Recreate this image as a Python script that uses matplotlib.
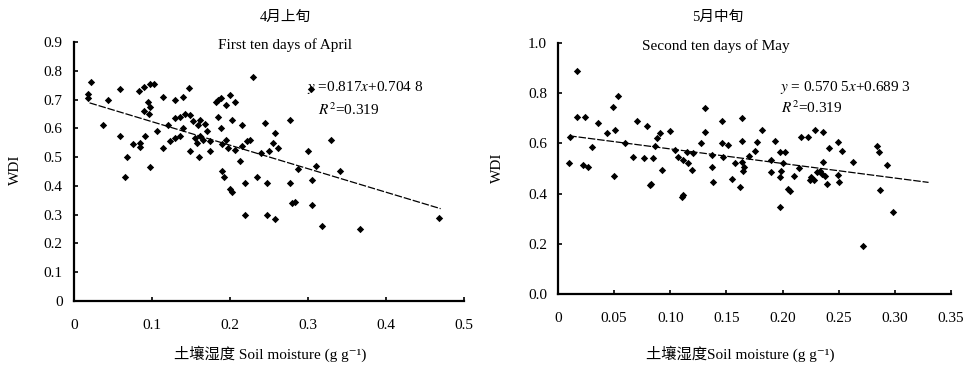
import numpy as np
import matplotlib
matplotlib.use("Agg")
import matplotlib.pyplot as plt

plt.rcParams['font.family'] = ['Liberation Serif', 'DejaVu Serif', 'Noto Sans CJK SC']
plt.rcParams['mathtext.fontset'] = 'stix'

# first ten days of April
apr_x = [0.022, 0.018, 0.018, 0.044, 0.059, 0.084, 0.090, 0.098, 0.103, 0.095,
         0.098, 0.096, 0.114, 0.037, 0.059, 0.076, 0.085, 0.091, 0.085, 0.068,
         0.097, 0.066, 0.106, 0.114, 0.123, 0.130, 0.136, 0.130, 0.136, 0.142,
         0.130, 0.140, 0.148, 0.149, 0.153, 0.159, 0.162, 0.168, 0.170, 0.162,
         0.166, 0.155, 0.158, 0.149, 0.160, 0.182, 0.185, 0.188, 0.200, 0.206,
         0.185, 0.202, 0.188, 0.216, 0.195, 0.190, 0.198, 0.206, 0.215, 0.222,
         0.226, 0.213, 0.190, 0.192, 0.219, 0.235, 0.248, 0.277, 0.305, 0.230,
         0.277, 0.304, 0.310, 0.330, 0.341, 0.200, 0.203, 0.219, 0.248, 0.258,
         0.279, 0.283, 0.305, 0.318, 0.367, 0.468, 0.262, 0.287, 0.195, 0.175,
         0.240, 0.250, 0.255, 0.258, 0.245, 0.090, 0.140, 0.120, 0.175, 0.300]
apr_y = [0.760, 0.720, 0.705, 0.700, 0.735, 0.730, 0.745, 0.755, 0.755, 0.690,
         0.675, 0.650, 0.710, 0.610, 0.575, 0.545, 0.550, 0.575, 0.535, 0.500,
         0.465, 0.430, 0.590, 0.530, 0.555, 0.565, 0.575, 0.635, 0.640, 0.650,
         0.700, 0.710, 0.740, 0.645, 0.625, 0.610, 0.630, 0.615, 0.590, 0.575,
         0.560, 0.565, 0.550, 0.520, 0.500, 0.690, 0.700, 0.705, 0.715, 0.690,
         0.640, 0.630, 0.600, 0.610, 0.560, 0.545, 0.530, 0.525, 0.540, 0.555,
         0.560, 0.485, 0.450, 0.430, 0.410, 0.430, 0.410, 0.410, 0.420, 0.780,
         0.630, 0.735, 0.470, 0.560, 0.450, 0.390, 0.380, 0.300, 0.300, 0.285,
         0.340, 0.345, 0.335, 0.260, 0.250, 0.290, 0.530, 0.460, 0.680, 0.555,
         0.515, 0.520, 0.550, 0.585, 0.620, 0.660, 0.600, 0.610, 0.520, 0.520]

# second ten days of May
may_x = [0.017, 0.053, 0.049, 0.017, 0.024, 0.036, 0.070, 0.079, 0.100, 0.051,
         0.044, 0.011, 0.030, 0.091, 0.088, 0.086, 0.067, 0.077, 0.085, 0.093,
         0.010, 0.022, 0.027, 0.050, 0.083, 0.111, 0.104, 0.107, 0.111, 0.116,
         0.131, 0.146, 0.164, 0.182, 0.131, 0.146, 0.151, 0.164, 0.177, 0.193,
         0.127, 0.115, 0.120, 0.137, 0.147, 0.164, 0.166, 0.165, 0.198, 0.202,
         0.190, 0.200, 0.199, 0.198, 0.119, 0.137, 0.190, 0.205, 0.162, 0.155,
         0.138, 0.110, 0.198, 0.216, 0.223, 0.229, 0.225, 0.231, 0.236, 0.249,
         0.241, 0.253, 0.236, 0.233, 0.235, 0.238, 0.224, 0.228, 0.240, 0.249,
         0.250, 0.263, 0.284, 0.286, 0.293, 0.287, 0.298, 0.272, 0.207, 0.082,
         0.170, 0.175, 0.158, 0.060, 0.215, 0.210]
may_y = [0.890, 0.790, 0.745, 0.705, 0.705, 0.680, 0.690, 0.670, 0.650, 0.655,
         0.640, 0.625, 0.585, 0.640, 0.620, 0.590, 0.545, 0.540, 0.540, 0.495,
         0.520, 0.515, 0.505, 0.470, 0.440, 0.395, 0.575, 0.545, 0.535, 0.520,
         0.740, 0.690, 0.700, 0.655, 0.645, 0.600, 0.595, 0.610, 0.605, 0.610,
         0.600, 0.565, 0.560, 0.555, 0.545, 0.525, 0.505, 0.490, 0.565, 0.565,
         0.535, 0.520, 0.490, 0.465, 0.495, 0.505, 0.485, 0.420, 0.425, 0.460,
         0.445, 0.385, 0.345, 0.625, 0.625, 0.655, 0.465, 0.485, 0.645, 0.605,
         0.580, 0.570, 0.525, 0.490, 0.480, 0.470, 0.455, 0.455, 0.440, 0.475,
         0.445, 0.525, 0.590, 0.565, 0.515, 0.415, 0.325, 0.190, 0.410, 0.435,
         0.550, 0.570, 0.520, 0.600, 0.500, 0.470]

# trend lines as drawn in the figure: (x start, x end, slope, intercept)
apr_fit = (0.02, 0.47, -0.817, 0.7048)
may_fit = (0.01, 0.33, -0.58, 0.636)

apr_yticks = [0, 0.1, 0.2, 0.3, 0.4, 0.5, 0.6, 0.7, 0.8, 0.9]
apr_ylabels = ['0', '0.1', '0.2', '0.3', '0.4', '0.5', '0.6', '0.7', '0.8', '0.9']
apr_xticks = [0, 0.1, 0.2, 0.3, 0.4, 0.5]
apr_xlabels = ['0', '0.1', '0.2', '0.3', '0.4', '0.5']
may_yticks = [0, 0.2, 0.4, 0.6, 0.8, 1.0]
may_ylabels = ['0.0', '0.2', '0.4', '0.6', '0.8', '1.0']
may_xticks = [0, 0.05, 0.10, 0.15, 0.20, 0.25, 0.30, 0.35]
may_xlabels = ['0', '0.05', '0.10', '0.15', '0.20', '0.25', '0.30', '0.35']

fig = plt.figure(figsize=(9.72, 3.70), dpi=100)
ax1 = fig.add_axes([0.0761, 0.1865, 0.4013, 0.7000])
ax2 = fig.add_axes([0.5741, 0.2054, 0.4043, 0.6784])


def style(ax, xt, xl, yt, yl, xmax, ymax):
    ax.set_xlim(0, xmax)
    ax.set_ylim(0, ymax)
    ax.set_xticks(xt)
    ax.set_xticklabels(xl)
    ax.set_yticks(yt)
    ax.set_yticklabels(yl)
    for s in ['top', 'right']:
        ax.spines[s].set_visible(False)
    for s in ['left', 'bottom']:
        ax.spines[s].set_linewidth(1.6)
    ax.tick_params(direction='in', length=3, width=1.2, labelsize=11, colors='black')
    ax.tick_params(axis='x', pad=13)
    ax.tick_params(axis='y', pad=8)


def fit_line(ax, fit):
    x0, x1, k, b = fit
    xs = np.array([x0, x1])
    ax.plot(xs, k * xs + b, color='black', lw=0.9, ls=(0, (6, 1.5)))


ax1.scatter(apr_x, apr_y, marker='D', s=14, color='black', linewidths=0)
fit_line(ax1, apr_fit)
style(ax1, apr_xticks, apr_xlabels, apr_yticks, apr_ylabels, 0.5, 0.9)
ax1.text(0.541, 0.988, 'First ten days of April', transform=ax1.transAxes,
         ha='center', va='center', fontsize=11)
ax1.text(0.541, 1.097, '4月上旬', transform=ax1.transAxes,
         ha='center', va='center', fontsize=10.5)
ax1.text(0.597, 0.826, r'$y$ =0.817$x$+0.704 8', transform=ax1.transAxes,
         ha='left', va='center', fontsize=11)
ax1.text(0.626, 0.737, r'$R^2$=0.319', transform=ax1.transAxes,
         ha='left', va='center', fontsize=11)

ax2.scatter(may_x, may_y, marker='D', s=14, color='black', linewidths=0)
fit_line(ax2, may_fit)
style(ax2, may_xticks, may_xlabels, may_yticks, may_ylabels, 0.35, 1.0)
ax2.text(0.402, 0.988, 'Second ten days of May', transform=ax2.transAxes,
         ha='center', va='center', fontsize=11)
ax2.text(0.407, 1.104, '5月中旬', transform=ax2.transAxes,
         ha='center', va='center', fontsize=10.5)
ax2.text(0.565, 0.821, r'$y$ = 0.570 5$x$+0.689 3', transform=ax2.transAxes,
         ha='left', va='center', fontsize=11)
ax2.text(0.567, 0.741, r'$R^2$=0.319', transform=ax2.transAxes,
         ha='left', va='center', fontsize=11)

fig.text(15 / 972, 1 - 170 / 370, 'WDI', rotation=90, ha='center', va='center', fontsize=11)
fig.text(497 / 972, 1 - 168 / 370, 'WDI', rotation=90, ha='center', va='center', fontsize=11)
fig.text(270 / 972, 1 - 354 / 370, '土壤湿度 Soil moisture (g g⁻¹)',
         ha='center', va='center', fontsize=11)
fig.text(740 / 972, 1 - 354 / 370, '土壤湿度Soil moisture (g g⁻¹)',
         ha='center', va='center', fontsize=11)

fig.savefig('out.png', dpi=100)
